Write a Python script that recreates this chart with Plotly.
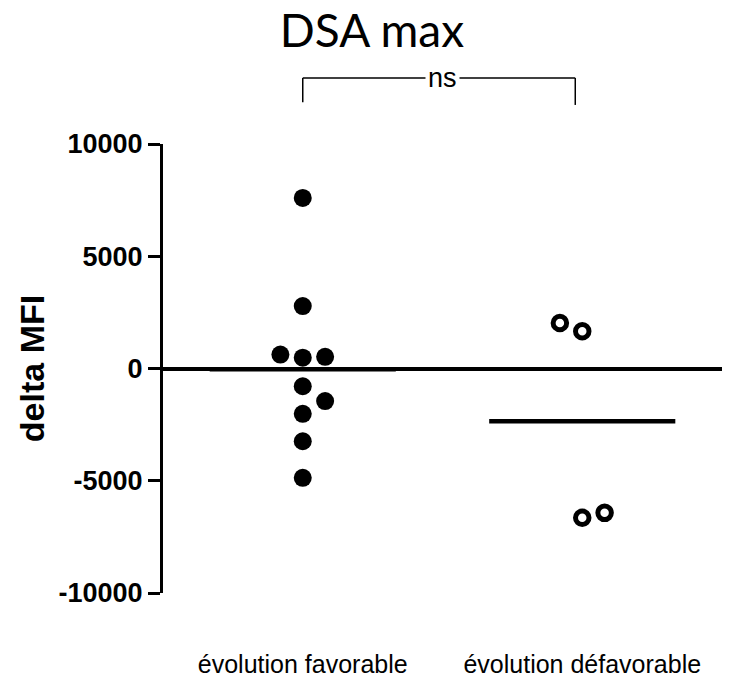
import plotly.graph_objects as go

# Groups and per-patient delta MFI values
categories = ["évolution favorable", "évolution défavorable"]
favorable_values = [7600, 2780, 620, 480, 520, -790, -1450, -2020, -3240, -4870]
favorable_jitter = [0, 0, -0.08, 0, 0.08, 0, 0.08, 0, 0, 0]
defavorable_values = [2030, 1660, -6650, -6430]
defavorable_jitter = [-0.08, 0, 0, 0.08]
y_ticks = [-10000, -5000, 0, 5000, 10000]
title_text = "DSA max"
y_title = "delta MFI"
test_label = "ns"

MEAN_HALF_WIDTH = 0.333
ARIAL = "Liberation Sans, Arial, sans-serif"


def mean(values):
    return sum(values) / len(values)


fig = go.Figure()

# individual points
fig.add_trace(go.Scatter(
    x=[1 + j for j in favorable_jitter], y=favorable_values,
    mode="markers",
    marker=dict(symbol="circle", size=18, color="black"),
    cliponaxis=False, showlegend=False,
))
fig.add_trace(go.Scatter(
    x=[2 + j for j in defavorable_jitter], y=defavorable_values,
    mode="markers",
    marker=dict(symbol="circle-open", size=13.5, color="black", line=dict(width=5)),
    cliponaxis=False, showlegend=False,
))

# group means
for pos, vals in ((1, favorable_values), (2, defavorable_values)):
    m = mean(vals)
    fig.add_trace(go.Scatter(
        x=[pos - MEAN_HALF_WIDTH, pos + MEAN_HALF_WIDTH], y=[m, m],
        mode="lines", line=dict(color="black", width=4.5),
        showlegend=False, hoverinfo="skip",
    ))

# significance bracket between the two groups
bracket_top = 1.147
fig.add_shape(type="line", xref="x", yref="paper", x0=1, x1=1.975,
              y0=bracket_top, y1=bracket_top, line=dict(color="black", width=1.5))
fig.add_shape(type="line", xref="x", yref="paper", x0=1, x1=1,
              y0=bracket_top, y1=1.093, line=dict(color="black", width=1.5))
fig.add_shape(type="line", xref="x", yref="paper", x0=1.975, x1=1.975,
              y0=bracket_top, y1=1.087, line=dict(color="black", width=1.5))
fig.add_annotation(
    x=1.5, xref="x", y=bracket_top, yref="paper",
    text=test_label, showarrow=False, bgcolor="white", borderpad=2,
    font=dict(family=ARIAL, size=27, color="black"),
    xanchor="center", yanchor="middle",
)

fig.update_layout(
    width=753, height=681,
    margin=dict(l=163, r=31, t=144, b=88),
    paper_bgcolor="white", plot_bgcolor="white",
    title=dict(
        text=title_text, x=0.494, xref="container", xanchor="center",
        y=1 - 31 / 681, yref="container", yanchor="middle",
        font=dict(family="Lato, sans-serif", size=46, color="black"),
    ),
    xaxis=dict(
        range=[0.5, 2.5], tickvals=[1, 2], ticktext=categories,
        showline=False, showgrid=False, zeroline=False, ticks="",
        tickfont=dict(family=ARIAL, size=25, color="black"),
        ticklabelstandoff=54, automargin=False,
    ),
    yaxis=dict(
        range=[-10000, 10000], tickvals=y_ticks, ticktext=[str(v) for v in y_ticks],
        showline=True, linecolor="black", linewidth=3,
        ticks="outside", ticklen=12, tickwidth=3, tickcolor="black",
        showgrid=False, zeroline=True, zerolinecolor="black", zerolinewidth=4,
        tickfont=dict(family=ARIAL, size=27, color="black", weight="bold"),
        automargin=False,
        title=dict(text=y_title, standoff=4,
                   font=dict(family=ARIAL, size=34, color="black", weight="bold")),
    ),
)

fig.write_html("out.html")
